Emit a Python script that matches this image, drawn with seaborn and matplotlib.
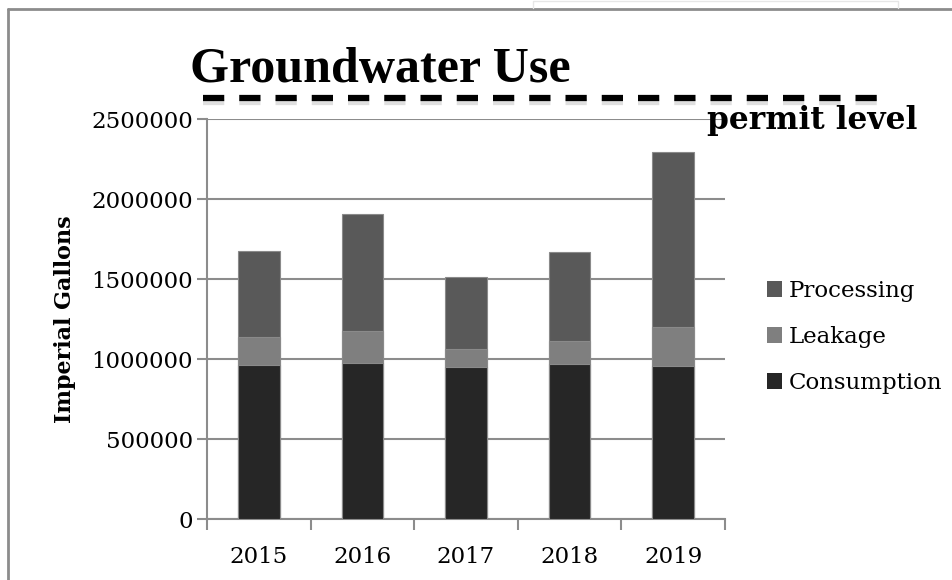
import pandas as pd
import seaborn as sns
import matplotlib.pyplot as plt
import matplotlib.patheffects as pe
from matplotlib.patches import Patch
from matplotlib.lines import Line2D
from matplotlib.transforms import blended_transform_factory

# Data (imperial gallons)
years = ["2015", "2016", "2017", "2018", "2019"]
consumption = [960000, 978000, 947000, 967000, 955000]
leakage = [180000, 194000, 117000, 146000, 246000]
processing = [535000, 732000, 449000, 553000, 1090000]
permit_level = 2630000

series_names = ["Processing", "Leakage", "Consumption"]
colors = {"Consumption": "#262626", "Leakage": "#7f7f7f", "Processing": "#595959"}

df = pd.DataFrame({"year": years, "Consumption": consumption,
                   "Leakage": leakage, "Processing": processing})
# cumulative tops for stacking (draw tallest first, then overlay)
df["top_cons"] = df["Consumption"]
df["top_leak"] = df["Consumption"] + df["Leakage"]
df["top_proc"] = df["top_leak"] + df["Processing"]

sns.set_style("white")
plt.rcParams["font.family"] = ["DejaVu Serif", "DejaVu Sans"]
plt.rcParams.update({"text.color": "black", "axes.labelcolor": "black",
                     "xtick.labelcolor": "black", "ytick.labelcolor": "black"})

fig = plt.figure(figsize=(9.53, 5.8), dpi=100)
ax = fig.add_axes([207 / 953, 1 - 519 / 580, 518 / 953, 400 / 580])

grid_col = "#8c8c8c"
for col, name in [("top_proc", "Processing"), ("top_leak", "Leakage"), ("top_cons", "Consumption")]:
    sns.barplot(data=df, x="year", y=col, color=colors[name], width=0.4,
                saturation=1, edgecolor="#8a8a8a", linewidth=0.8, ax=ax, zorder=3)

ax.set_ylim(0, 2500000)
ax.set_xlim(-0.5, 4.5)
ax.set_yticks([0, 500000, 1000000, 1500000, 2000000, 2500000])
ax.set_yticklabels(["0", "500000", "1000000", "1500000", "2000000", "2500000"])
ax.yaxis.grid(True, color=grid_col, linewidth=1.5, zorder=0)
ax.set_axisbelow(True)

for s in ["top", "right"]:
    ax.spines[s].set_visible(False)
for s in ["left", "bottom"]:
    ax.spines[s].set_color(grid_col)
    ax.spines[s].set_linewidth(1.5)

ax.tick_params(axis="y", which="major", left=True, length=7, width=1.5,
               color=grid_col, labelcolor="black", labelsize=16.5, pad=3)
ax.tick_params(axis="x", which="major", bottom=False, labelcolor="black",
               labelsize=16.5, pad=16)
ax.set_xticks([-0.5, 0.5, 1.5, 2.5, 3.5, 4.5], minor=True)
ax.tick_params(axis="x", which="minor", bottom=True, length=8, width=1.5, color=grid_col)

ax.set_xlabel("")
ax.set_ylabel("Imperial Gallons", fontsize=16, fontweight="bold", color="black")
ax.yaxis.set_label_coords(-0.252, 0.5)

# permit level dashed line extending past the plot area
trans = blended_transform_factory(ax.transAxes, ax.transData)
ax.plot([-0.0075, 1.3], [permit_level, permit_level], transform=trans,
        color="black", linewidth=4.5, linestyle=(0, (3.4, 2.4)), clip_on=False,
        solid_capstyle="butt", dash_capstyle="butt", zorder=5,
        path_effects=[pe.SimpleLineShadow(offset=(0, -2.5), shadow_color="#b0b0b0", alpha=0.4),
                      pe.Normal()])

fig.text(707 / 953, 1 - 121 / 580, "permit level", fontsize=22.5, fontweight="bold",
         color="black", ha="left", va="center")
fig.text(190 / 953, 1 - 82 / 580, "Groundwater Use", fontsize=36, fontweight="bold",
         color="black", family=["Liberation Serif", "DejaVu Serif"], ha="left", va="baseline")

handles = [Patch(facecolor=colors[n], edgecolor="none", label=n) for n in series_names]
fig.legend(handles=handles, loc="center left", bbox_to_anchor=(758 / 953, 1 - 337 / 580),
           frameon=False, fontsize=16.5, handlelength=0.65, handleheight=0.65,
           handletextpad=0.3, labelspacing=1.05, borderaxespad=0, labelcolor="black")

# outer chart border
fig.add_artist(Line2D([8 / 953, 8 / 953], [0, 1 - 9 / 580], transform=fig.transFigure,
                      color="#8c8c8c", linewidth=2))
fig.add_artist(Line2D([8 / 953, 1], [1 - 9 / 580, 1 - 9 / 580], transform=fig.transFigure,
                      color="#8c8c8c", linewidth=2))
# faint box edge peeking at the top
fig.add_artist(Line2D([533 / 953, 533 / 953, 898 / 953, 898 / 953],
                      [1 - 8 / 580, 1 - 0.7 / 580, 1 - 0.7 / 580, 1 - 8 / 580],
                      transform=fig.transFigure, color="#e6e6e6", linewidth=1))

fig.savefig("out.png", dpi=100)
